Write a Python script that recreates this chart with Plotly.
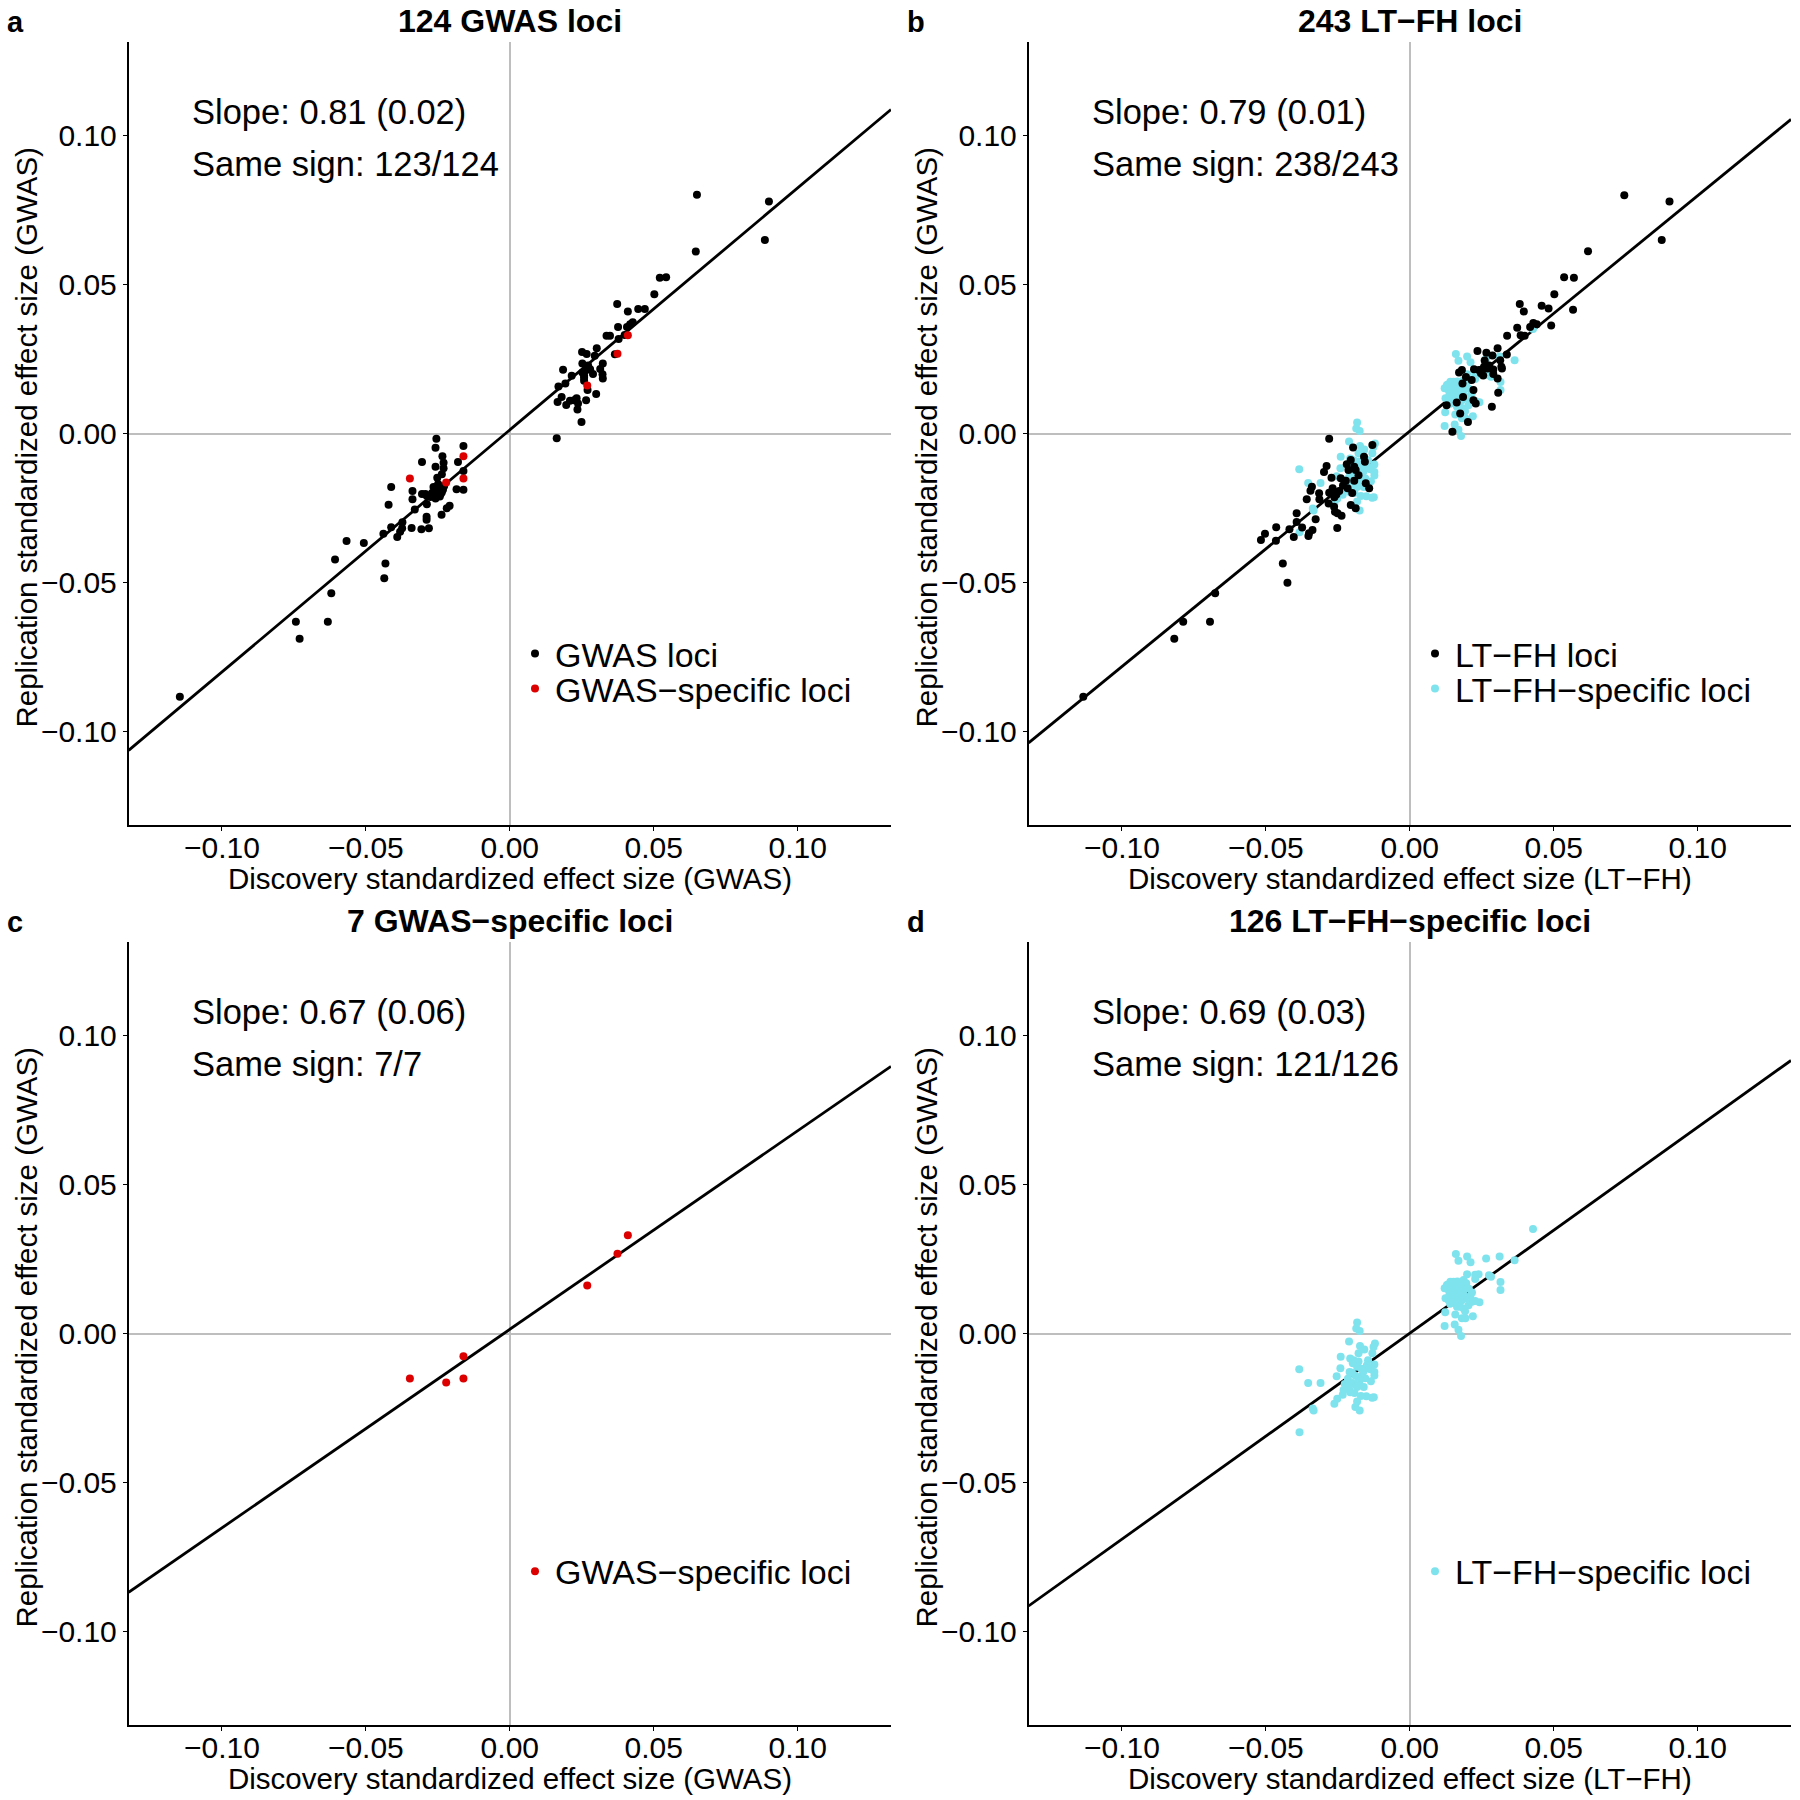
import plotly.graph_objects as go

# ---------------- data ----------------
# GWAS loci shared with LT-FH: discovery effect (GWAS) vs replication effect
gwas_shared_x = [
    -0.1146, -0.0743, -0.0730, -0.0632, -0.0620, -0.0607, -0.0567, -0.0507, -0.0436, -0.0432,
    -0.0439, -0.0412, -0.0421, -0.0412, -0.0391, -0.0381, -0.0373, -0.0374, -0.0341, -0.0307,
    -0.0281, -0.0330, -0.0338, -0.0338, -0.0305, -0.0289, -0.0289, -0.0288, -0.0305, -0.0288,
    -0.0237, -0.0219, -0.0209, -0.0255, -0.0258, -0.0234, -0.0230, -0.0258, -0.0230, -0.0236,
    -0.0252, -0.0161, -0.0180, -0.0161, -0.0185, -0.0161, -0.0265, -0.0256, -0.0245, -0.0236,
    -0.0262, -0.0250, -0.0240, -0.0270, -0.0228, -0.0258, -0.0276, -0.0293, -0.0249, -0.0232,
    -0.0262, -0.0243,
    0.0650, 0.0900, 0.0886, 0.0646, 0.0521, 0.0543, 0.0502, 0.0373, 0.0446, 0.0469,
    0.0410, 0.0427, 0.0418, 0.0407, 0.0376, 0.0399, 0.0336, 0.0348, 0.0378, 0.0365,
    0.0302, 0.0251, 0.0267, 0.0295, 0.0252, 0.0323, 0.0267, 0.0279, 0.0314, 0.0185,
    0.0215, 0.0258, 0.0289, 0.0322, 0.0323, 0.0258, 0.0193, 0.0169, 0.0270, 0.0300,
    0.0180, 0.0166, 0.0196, 0.0209, 0.0223, 0.0232, 0.0237, 0.0235, 0.0265, 0.0249,
    0.0163, 0.0262, 0.0252, 0.0258, 0.0272,
]
gwas_shared_y = [
    -0.0884, -0.0632, -0.0689, -0.0632, -0.0537, -0.0423, -0.0361, -0.0368, -0.0486, -0.0437,
    -0.0337, -0.0315, -0.0239, -0.0180, -0.0348, -0.0330, -0.0298, -0.0318, -0.0317, -0.0322,
    -0.0318, -0.0255, -0.0221, -0.0193, -0.0096, -0.0280, -0.0290, -0.0238, -0.0203, -0.0210,
    -0.0273, -0.0251, -0.0243, -0.0018, -0.0048, -0.0076, -0.0098, -0.0112, -0.0117, -0.0137,
    -0.0149, -0.0042, -0.0096, -0.0126, -0.0187, -0.0189, -0.0180, -0.0191, -0.0186, -0.0197,
    -0.0205, -0.0210, -0.0203, -0.0200, -0.0176, -0.0218, -0.0213, -0.0203, -0.0170, -0.0188,
    -0.0195, -0.0212,
    0.0802, 0.0779, 0.0650, 0.0611, 0.0523, 0.0525, 0.0468, 0.0435, 0.0418, 0.0418,
    0.0410, 0.0374, 0.0367, 0.0358, 0.0358, 0.0331, 0.0328, 0.0328, 0.0317, 0.0266,
    0.0286, 0.0274, 0.0267, 0.0261, 0.0235, 0.0235, 0.0224, 0.0216, 0.0217, 0.0214,
    0.0194, 0.0194, 0.0200, 0.0199, 0.0185, 0.0177, 0.0168, 0.0158, 0.0146, 0.0133,
    0.0123, 0.0106, 0.0096, 0.0110, 0.0112, 0.0118, 0.0101, 0.0081, 0.0112, 0.0039,
    -0.0016, 0.0210, 0.0205, 0.0187, 0.0228,
]

# GWAS-specific loci
gwas_specific_x = [-0.0347, -0.0221, -0.0161, -0.0161, 0.0269, 0.0374, 0.0410]
gwas_specific_y = [-0.0151, -0.0165, -0.0076, -0.0151, 0.0161, 0.0268, 0.0330]

# LT-FH loci shared with GWAS: discovery effect (LT-FH) vs replication effect
ltfh_shared_x = [
    -0.1134, -0.0818, -0.0787, -0.0694, -0.0676, -0.0425, -0.0441, -0.0517, -0.0503, -0.0465,
    -0.0464, -0.0418, -0.0403, -0.0393, -0.0393, -0.0374, -0.0352, -0.0350, -0.0338, -0.0327,
    -0.0358, -0.0345, -0.0340, -0.0315, -0.0314, -0.0289, -0.0298, -0.0280, -0.0282, -0.0280,
    -0.0268, -0.0263, -0.0260, -0.0251, -0.0237, -0.0252, -0.0272, -0.0213, -0.0219, -0.0197,
    -0.0205, -0.0193, -0.0188, -0.0159, -0.0156, -0.0130, -0.0153, -0.0141, -0.0205, -0.0188,
    -0.0216, -0.0222, -0.0193, -0.0245, -0.0255, -0.0232, -0.0240, -0.0178, -0.0262, -0.0200,
    0.0745, 0.0902, 0.0875, 0.0619, 0.0536, 0.0570, 0.0502, 0.0382, 0.0396, 0.0458,
    0.0482, 0.0567, 0.0491, 0.0373, 0.0418, 0.0429, 0.0441, 0.0385, 0.0399, 0.0338,
    0.0235, 0.0266, 0.0305, 0.0287, 0.0337, 0.0258, 0.0252, 0.0270, 0.0264, 0.0223,
    0.0181, 0.0171, 0.0290, 0.0318, 0.0314, 0.0247, 0.0305, 0.0307, 0.0221, 0.0185,
    0.0163, 0.0221, 0.0229, 0.0285, 0.0128, 0.0175, 0.0202, 0.0148, 0.0183, 0.0240,
    0.0260, 0.0320, 0.0276, 0.0215, 0.0290, 0.0255, 0.0195,
]
ltfh_shared_y = [
    -0.0884, -0.0689, -0.0632, -0.0632, -0.0537, -0.0501, -0.0437, -0.0358, -0.0337, -0.0360,
    -0.0315, -0.0322, -0.0348, -0.0297, -0.0268, -0.0316, -0.0344, -0.0335, -0.0324, -0.0288,
    -0.0221, -0.0192, -0.0179, -0.0201, -0.0221, -0.0109, -0.0129, -0.0018, -0.0235, -0.0199,
    -0.0184, -0.0246, -0.0263, -0.0268, -0.0276, -0.0317, -0.0149, -0.0123, -0.0103, -0.0047,
    -0.0089, -0.0112, -0.0123, -0.0078, -0.0095, -0.0039, -0.0167, -0.0184, -0.0240, -0.0251,
    -0.0184, -0.0159, -0.0159, -0.0193, -0.0205, -0.0175, -0.0150, -0.0140, -0.0214, -0.0200,
    0.0800, 0.0779, 0.0650, 0.0612, 0.0525, 0.0523, 0.0468, 0.0435, 0.0410, 0.0429,
    0.0420, 0.0416, 0.0363, 0.0355, 0.0358, 0.0371, 0.0367, 0.0330, 0.0328, 0.0328,
    0.0277, 0.0271, 0.0286, 0.0262, 0.0265, 0.0224, 0.0216, 0.0218, 0.0230, 0.0216,
    0.0213, 0.0205, 0.0215, 0.0224, 0.0246, 0.0202, 0.0185, 0.0137, 0.0146, 0.0123,
    0.0104, 0.0112, 0.0101, 0.0090, 0.0095, 0.0067, 0.0039, 0.0006, 0.0168, 0.0213,
    0.0245, 0.0218, 0.0228, 0.0180, 0.0200, 0.0195, 0.0190,
]

# LT-FH-specific loci
ltfh_specific_x = [
    -0.0383, -0.0384, -0.0353, -0.0310, -0.0334, -0.0337, -0.0262, -0.0252, -0.0233, -0.0254,
    -0.0241, -0.0240, -0.0211, -0.0183, -0.0186, -0.0174, -0.0173, -0.0178, -0.0158, -0.0121,
    -0.0126, -0.0130, -0.0207, -0.0195, -0.0178, -0.0183, -0.0149, -0.0123, -0.0137, -0.0123,
    -0.0123, -0.0166, -0.0178, -0.0201, -0.0209, -0.0175, -0.0187, -0.0218, -0.0226, -0.0211,
    -0.0207, -0.0183, -0.0151, -0.0131, -0.0125, -0.0183, -0.0189, -0.0174, -0.0198, -0.0190,
    -0.0140, -0.0160, -0.0198, -0.0168, -0.0155, -0.0145, -0.0215, -0.0192, -0.0160, -0.0135,
    -0.0170, -0.0230,
    0.0428, 0.0364, 0.0312, 0.0265, 0.0315, 0.0315, 0.0282, 0.0160, 0.0199, 0.0211,
    0.0169, 0.0199, 0.0227, 0.0239, 0.0227, 0.0196, 0.0141, 0.0129, 0.0152, 0.0121,
    0.0135, 0.0158, 0.0175, 0.0187, 0.0169, 0.0147, 0.0124, 0.0135, 0.0216, 0.0158,
    0.0169, 0.0181, 0.0175, 0.0187, 0.0164, 0.0216, 0.0227, 0.0242, 0.0219, 0.0181,
    0.0123, 0.0121, 0.0156, 0.0169, 0.0178, 0.0193, 0.0187, 0.0204, 0.0138, 0.0160,
    0.0148, 0.0187, 0.0156, 0.0275, 0.0145, 0.0172, 0.0195, 0.0133, 0.0205, 0.0165,
    0.0192, 0.0210, 0.0140, 0.0158,
]
ltfh_specific_y = [
    -0.0332, -0.0120, -0.0166, -0.0166, -0.0259, -0.0252, -0.0236, -0.0219, -0.0206, -0.0144,
    -0.0117, -0.0078, -0.0027, 0.0037, 0.0017, 0.0008, -0.0042, -0.0066, -0.0054, -0.0034,
    -0.0045, -0.0066, -0.0084, -0.0090, -0.0094, -0.0112, -0.0107, -0.0104, -0.0120, -0.0129,
    -0.0141, -0.0141, -0.0149, -0.0132, -0.0129, -0.0163, -0.0174, -0.0174, -0.0170, -0.0185,
    -0.0197, -0.0180, -0.0211, -0.0216, -0.0214, -0.0228, -0.0247, -0.0259, -0.0100, -0.0141,
    -0.0116, -0.0126, -0.0166, -0.0118, -0.0150, -0.0090, -0.0152, -0.0200, -0.0180, -0.0160,
    -0.0210, -0.0190,
    0.0351, 0.0246, 0.0259, 0.0252, 0.0173, 0.0146, 0.0191, 0.0267, 0.0259, 0.0239,
    0.0244, 0.0199, 0.0197, 0.0199, 0.0183, 0.0169, 0.0174, 0.0163, 0.0174, 0.0152,
    0.0146, 0.0158, 0.0158, 0.0149, 0.0138, 0.0132, 0.0118, 0.0112, 0.0138, 0.0101,
    0.0101, 0.0112, 0.0090, 0.0084, 0.0090, 0.0107, 0.0109, 0.0105, 0.0058, 0.0051,
    0.0071, 0.0025, 0.0030, 0.0013, -0.0008, 0.0051, 0.0130, 0.0095, 0.0132, 0.0118,
    0.0158, 0.0180, 0.0140, 0.0196, 0.0150, 0.0120, 0.0118, 0.0165, 0.0150, 0.0175,
    0.0075, 0.0125, 0.0100, 0.0064,
]

# panel texts and fitted lines
panel_letters = ["a", "b", "c", "d"]
panel_titles = ["124 GWAS loci", "243 LT\u2212FH loci",
                "7 GWAS\u2212specific loci", "126 LT\u2212FH\u2212specific loci"]
slope_labels = ["Slope: 0.81 (0.02)", "Slope: 0.79 (0.01)",
                "Slope: 0.67 (0.06)", "Slope: 0.69 (0.03)"]
sign_labels = ["Same sign: 123/124", "Same sign: 238/243",
               "Same sign: 7/7", "Same sign: 121/126"]
fit_slopes = [0.813, 0.791, 0.667, 0.692]
fit_intercepts = [0.0012, 0.0008, 0.0014, 0.0001]
x_titles = ["Discovery standardized effect size (GWAS)",
            "Discovery standardized effect size (LT\u2212FH)",
            "Discovery standardized effect size (GWAS)",
            "Discovery standardized effect size (LT\u2212FH)"]
y_title = "Replication standardized effect size (GWAS)"
tick_vals = [-0.10, -0.05, 0.00, 0.05, 0.10]

legend_gwas = "GWAS loci"
legend_gwas_spec = "GWAS\u2212specific loci"
legend_ltfh = "LT\u2212FH loci"
legend_ltfh_spec = "LT\u2212FH\u2212specific loci"

# ---------------- styling ----------------
W = H = 1800
FONT = "Liberation Sans, Arial, Helvetica, sans-serif"
BLACK = "#000000"
RED = "#DD0000"
CYAN = "#7FE3EE"
MS = 8
XR = [-0.1324, 0.1324]
YR = [-0.1315, 0.1315]

# plot-area pixel boxes (left, right, top, bottom)
boxes = [(128.6, 891, 42, 825), (1028.6, 1791, 42, 825),
         (128.6, 891, 942, 1725), (1028.6, 1791, 942, 1725)]

fig = go.Figure()


def axsuffix(i):
    return "" if i == 0 else str(i + 1)


def add_points(i, xs, ys, color, name, legend_id, show=True):
    ax = axsuffix(i)
    fig.add_trace(go.Scatter(
        x=xs, y=ys, mode="markers", name=name,
        marker=dict(color=color, size=MS, line=dict(width=0)),
        xaxis="x" + ax, yaxis="y" + ax,
        legend=legend_id, showlegend=show,
    ))


# fitted lines first (under points)
for i in range(4):
    ax = axsuffix(i)
    xs = [XR[0], XR[1]]
    ys = [fit_intercepts[i] + fit_slopes[i] * v for v in xs]
    fig.add_trace(go.Scatter(x=xs, y=ys, mode="lines",
                             line=dict(color=BLACK, width=2.8),
                             xaxis="x" + ax, yaxis="y" + ax,
                             showlegend=False, hoverinfo="skip"))

# panel a
add_points(0, gwas_shared_x, gwas_shared_y, BLACK, legend_gwas, "legend")
add_points(0, gwas_specific_x, gwas_specific_y, RED, legend_gwas_spec, "legend2")
# panel b
add_points(1, ltfh_specific_x, ltfh_specific_y, CYAN, legend_ltfh_spec, "legend4")
add_points(1, ltfh_shared_x, ltfh_shared_y, BLACK, legend_ltfh, "legend3")
# panel c
add_points(2, gwas_specific_x, gwas_specific_y, RED, legend_gwas_spec, "legend5")
# panel d
add_points(3, ltfh_specific_x, ltfh_specific_y, CYAN, legend_ltfh_spec, "legend6")

layout = dict(
    width=W, height=H,
    margin=dict(l=0, r=0, t=0, b=0, autoexpand=False),
    paper_bgcolor="white", plot_bgcolor="white",
    font=dict(family=FONT, color=BLACK),
    annotations=[],
)

for i in range(4):
    ax = axsuffix(i)
    L, R, T, B = boxes[i]
    common = dict(
        tickvals=tick_vals, tickformat=".2f",
        ticks="outside", ticklen=4, tickwidth=1.2, tickcolor=BLACK,
        tickfont=dict(size=30, family=FONT, color=BLACK),
        showline=True, linecolor=BLACK, linewidth=1.6,
        showgrid=False, zeroline=True, zerolinecolor="#BEBEBE", zerolinewidth=1.6,
        fixedrange=True, automargin=False,
    )
    xa = dict(common, domain=[L / W, R / W], range=XR, anchor="y" + ax,
              ticklabelstandoff=-9)
    ya = dict(common, domain=[1 - B / H, 1 - T / H], range=YR, anchor="x" + ax)
    layout["xaxis" + ax] = xa
    layout["yaxis" + ax] = ya

    xc = (L + R) / 2
    yc = (T + B) / 2
    # title
    layout["annotations"].append(dict(
        text="<b>" + panel_titles[i] + "</b>", xref="paper", yref="paper",
        x=xc / W, y=1 - (T - 21) / H, xanchor="center", yanchor="middle",
        showarrow=False, font=dict(size=32, family=FONT, color=BLACK)))
    # panel letter
    layout["annotations"].append(dict(
        text="<b>" + panel_letters[i] + "</b>", xref="paper", yref="paper",
        x=(L - 124) / W, y=1 - (T - 20) / H, xanchor="left", yanchor="middle",
        showarrow=False, font=dict(size=29, family=FONT, color=BLACK)))
    # axis titles
    layout["annotations"].append(dict(
        text=x_titles[i], xref="paper", yref="paper",
        x=xc / W, y=1 - (B + 53) / H, xanchor="center", yanchor="middle",
        showarrow=False, font=dict(size=29.5, family=FONT, color=BLACK)))
    layout["annotations"].append(dict(
        text=y_title, xref="paper", yref="paper", textangle=-90,
        x=(L - 102.6) / W, y=1 - (yc + 4) / H, xanchor="center", yanchor="middle",
        showarrow=False, font=dict(size=29.5, family=FONT, color=BLACK)))
    # stats text
    layout["annotations"].append(dict(
        text=slope_labels[i], xref="paper", yref="paper",
        x=(L + 61) / W, y=1 - (T + 70) / H, xanchor="left", yanchor="middle",
        showarrow=False, font=dict(size=34.5, family=FONT, color=BLACK)))
    layout["annotations"].append(dict(
        text=sign_labels[i], xref="paper", yref="paper",
        x=(L + 61) / W, y=1 - (T + 121.6) / H, xanchor="left", yanchor="middle",
        showarrow=False, font=dict(size=34.5, family=FONT, color=BLACK)))

legend_common = dict(
    bgcolor="rgba(0,0,0,0)", borderwidth=0,
    font=dict(size=34, family=FONT, color=BLACK),
    xanchor="left", yanchor="middle", itemclick=False, itemdoubleclick=False,
)
# one legend per key row, placed inside each panel
legend_rows = {
    "legend": (515, 654), "legend2": (515, 689),
    "legend3": (1415, 654), "legend4": (1415, 689),
    "legend5": (515, 1571.6), "legend6": (1415, 1571.6),
}
for key, (lx, ly) in legend_rows.items():
    layout[key] = dict(legend_common, x=lx / W, y=1 - ly / H)

fig.update_layout(**layout)
fig.write_html(
    "out.html",
    config={"displayModeBar": False},
    post_script="document.body.style.margin='0px';document.body.style.overflow='hidden';",
)
